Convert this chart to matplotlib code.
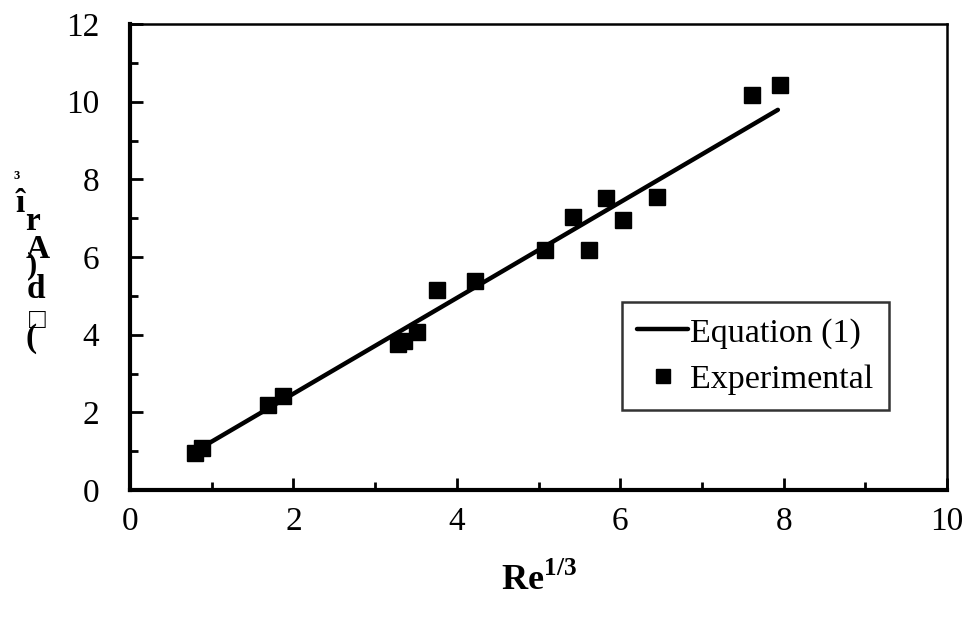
import matplotlib
matplotlib.use("Agg")
import matplotlib.pyplot as plt
from matplotlib.ticker import MultipleLocator

# Data
exp_x = [0.80, 0.88, 1.69, 1.87, 3.28, 3.35, 3.51, 3.76, 4.22, 5.08, 5.42, 5.62, 5.83, 6.03, 6.45, 7.61, 7.96]
exp_y = [0.95, 1.08, 2.20, 2.41, 3.76, 3.83, 4.07, 5.14, 5.39, 6.18, 7.02, 6.19, 7.51, 6.94, 7.55, 10.18, 10.44]
eq_x = [0.80, 7.93]
eq_y = [1.00, 9.79]
x_ticks = [0, 2, 4, 6, 8, 10]
y_ticks = [0, 2, 4, 6, 8, 10, 12]

plt.rcParams['font.family'] = ['Liberation Serif', 'DejaVu Serif']
plt.rcParams['mathtext.fontset'] = 'custom'
plt.rcParams['mathtext.rm'] = 'Liberation Serif'
plt.rcParams['mathtext.bf'] = 'Liberation Serif:bold'

W, H = 968, 622
fig = plt.figure(figsize=(W / 100, H / 100), dpi=100)
ax = fig.add_axes([130 / W, 1 - 490 / H, (947 - 130) / W, (490 - 24) / H])

ax.plot(eq_x, eq_y, color='black', lw=3.2, label='Equation (1)', solid_capstyle='round')
ax.plot(exp_x, exp_y, linestyle='none', marker='s', ms=11, color='black', label='Experimental')

ax.set_xlim(0, 10)
ax.set_ylim(0, 12)
ax.set_xticks(x_ticks)
ax.set_yticks(y_ticks)
ax.xaxis.set_minor_locator(MultipleLocator(1))
ax.yaxis.set_minor_locator(MultipleLocator(1))
ax.tick_params(which='both', direction='in', width=2, colors='black', labelsize=24)
ax.tick_params(which='major', length=9)
ax.tick_params(which='minor', length=6)
ax.tick_params(axis='x', which='both', top=False, pad=12)
ax.tick_params(axis='y', which='both', right=False, pad=22)

ax.spines['left'].set_linewidth(3.0)
ax.spines['bottom'].set_linewidth(3.0)
ax.spines['top'].set_linewidth(1.8)
ax.spines['right'].set_linewidth(1.8)

ax.set_xlabel(r'Re$^{\mathbf{1/3}}$', fontsize=26, fontweight='bold', labelpad=18)

leg = ax.legend(loc='lower left', bbox_to_anchor=((622 - 130) / 817, (490 - 410) / 466),
                fontsize=24.5, frameon=True, fancybox=False, edgecolor='black',
                handlelength=1.5, handletextpad=0.05, borderpad=0.45, labelspacing=0.45,
                markerscale=0.9, borderaxespad=0)
leg.get_frame().set_linewidth(1.8)

# Garbled stacked y-axis label as in the reference
ylabel_chars = ['³', 'î', 'r', 'A', ')', 'd', '□', '(']
ylabel_pos = [(17, 180), (20, 203), (33, 222), (38, 250), (32, 266), (36, 290), (37, 322), (31, 338)]
ylabel_size = [15, 24, 24, 24, 22, 24, 20, 24]
for ch, (px, py), s in zip(ylabel_chars, ylabel_pos, ylabel_size):
    fig.text(px / W, 1 - py / H, ch, fontsize=s, fontweight='bold', ha='center', va='center',
             family=['Liberation Serif', 'DejaVu Serif'])

fig.savefig('out.png', dpi=100, facecolor='white')
